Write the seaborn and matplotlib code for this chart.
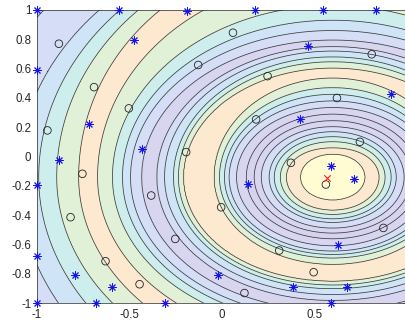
import numpy as np
import matplotlib
matplotlib.use('Agg')
import matplotlib.pyplot as plt
import seaborn as sns

# rings of the surface around the peak: the level of each ring and its distance from the
# peak read sideways (row through the peak), straight up and straight down
peak_x, peak_y = 0.6, -0.14
ring_level = [12.6, 12, 11, 10, 9, 8, 7, 6, 5.6, 6, 7, 8, 9, 10, 11, 11.6, 11,
              10, 9, 8, 7, 6.6, 7, 8, 9, 10, 11, 11.6, 11, 10, 9, 8, 7, 6]
radius_side = [0.0, 0.175, 0.251, 0.283, 0.316, 0.343, 0.386, 0.424, 0.445, 0.467, 0.52,
               0.56, 0.585, 0.612, 0.64, 0.72, 0.807, 0.834, 0.86, 0.909, 0.95, 0.985,
               1.033, 1.093, 1.136, 1.19, 1.271, 1.32, 1.373, 1.492, 1.589, 1.70, 1.95, 2.4]
radius_up = [0.0, 0.158, 0.2, 0.242, 0.276, 0.31, 0.344, 0.385, 0.405, 0.43, 0.475,
             0.52, 0.565, 0.61, 0.676, 0.71, 0.744, 0.787, 0.82, 0.86, 0.89, 0.91,
             0.935, 1.0, 1.07, 1.17, 1.36, 1.46, 1.54, 1.6, 1.65, 1.70, 1.9, 2.3]
radius_down = [0.0, 0.156, 0.225, 0.254, 0.284, 0.308, 0.347, 0.381, 0.40, 0.42, 0.468,
               0.504, 0.527, 0.551, 0.594, 0.65, 0.71, 0.735, 0.76, 0.80, 0.84, 0.87,
               0.91, 0.96, 1.0, 1.05, 1.14, 1.22, 1.29, 1.42, 1.58, 1.75, 1.95, 2.2]
levels = list(range(0, 15))
band_colors = ['#d4d1ef', '#d4d1ef', '#d4d1ef', '#d4d1ef', '#d4d1ef', '#d6d3f0',
               '#d8d5f1', '#d5def6', '#cfe5f7', '#cdeeec', '#e1f1d8', '#fde9cf',
               '#fffbd3', '#fffbd3']

# evaluated points
star_x = [-1, -0.557, -0.187, 0.18, 0.549, 0.835, -0.476, -1, 0.468, 0.917, -0.718, -0.881,
          -1, -0.43, 0.14, 0.425, 0.59, 0.716, -1, -0.795, -0.594, -0.678, -1, -0.021,
          -0.309, 0.63, 0.383, 0.675, 0.59]
star_y = [1, 1, 0.99, 1, 1, 1, 0.793, 0.588, 0.754, 0.424, 0.22, -0.026,
          -0.19, 0.053, -0.186, 0.26, -0.065, -0.149, -0.679, -0.804, -0.886, -1, -1, -0.804,
          -1, -0.6, -0.89, -0.886, -1]
circle_x = [-0.88, -0.69, -0.502, 0.061, -0.127, 0.248, 0.811, 0.623, -0.942, -0.753,
            -0.192, 0.186, -0.381, -0.003, 0.747, 0.374, 0.563, -0.817, -0.628, -0.444,
            -0.251, 0.123, 0.311, 0.874, 0.497]
circle_y = [0.77, 0.474, 0.329, 0.845, 0.625, 0.549, 0.698, 0.4, 0.179, -0.117,
            0.031, 0.254, -0.265, -0.345, 0.101, -0.042, -0.19, -0.413, -0.713, -0.87,
            -0.561, -0.93, -0.64, -0.486, -0.788]
best_x = [0.567]
best_y = [-0.145]

x_ticks = [-1, -0.5, 0, 0.5]
x_labels = ['-1', '-0.5', '0', '0.5']
y_ticks = [1, 0.8, 0.6, 0.4, 0.2, 0, -0.2, -0.4, -0.6, -0.8, -1]
y_labels = ['1', '0.8', '0.6', '0.4', '0.2', '0', '-0.2', '-0.4', '-0.6', '-0.8', '-1']


def ring_field(X, Y):
    # level at each grid point: ring radii blended by direction, then linear between rings
    dx = X - peak_x
    dy = Y - peak_y
    rho = np.hypot(dx, dy)
    s2 = dy**2 / np.maximum(rho, 1e-9)**2
    w_up = np.where(dy > 0, s2, 0.0)[..., None]
    w_dn = np.where(dy < 0, s2, 0.0)[..., None]
    knots = ((1 - w_up - w_dn) * np.array(radius_side)
             + w_up * np.array(radius_up) + w_dn * np.array(radius_down))
    lv = np.array(ring_level)
    idx = np.clip((rho[..., None] >= knots).sum(-1) - 1, 0, len(lv) - 2)
    r0 = np.take_along_axis(knots, idx[..., None], -1)[..., 0]
    r1 = np.take_along_axis(knots, idx[..., None] + 1, -1)[..., 0]
    t = np.clip((rho - r0) / (r1 - r0), 0, 1)
    return lv[idx] + t * (lv[idx + 1] - lv[idx])


sns.set_theme(style='white')
plt.rcParams['font.family'] = ['Liberation Sans', 'DejaVu Sans']

fig = plt.figure(figsize=(4.05, 3.25), dpi=100)
ax = fig.add_axes([36.7 / 405, 21.7 / 325, 370 / 405, 293.3 / 325])

g = np.linspace(-1, 1, 401)
X, Y = np.meshgrid(g, g)
Z = ring_field(X, Y)

ax.contourf(X, Y, Z, levels=levels, colors=band_colors)
ax.contour(X, Y, Z, levels=levels, colors='#3a3a3a', linewidths=0.55)

sns.scatterplot(x=star_x, y=star_y, marker=(8, 2, 0), color='#1414e6', s=28,
                linewidth=0.7, ax=ax, zorder=5, clip_on=False)
sns.scatterplot(x=circle_x, y=circle_y, marker='o', s=30, facecolor='none',
                edgecolor='#222222', linewidth=0.6, ax=ax, zorder=5)
sns.scatterplot(x=best_x, y=best_y, marker='x', color='#ff2020', s=22,
                linewidth=0.8, ax=ax, zorder=6)

ax.set_xlim(-1, 1)
ax.set_ylim(-1, 1)
ax.set_xticks(x_ticks)
ax.set_xticklabels(x_labels)
ax.set_yticks(y_ticks)
ax.set_yticklabels(y_labels)
ax.tick_params(direction='in', length=3, width=0.5, top=True, right=True,
               labelsize=8.3, colors='#262626', pad=4)
for s in ax.spines.values():
    s.set_color('#262626')
    s.set_linewidth(0.5)

fig.savefig('out.png', dpi=100)
